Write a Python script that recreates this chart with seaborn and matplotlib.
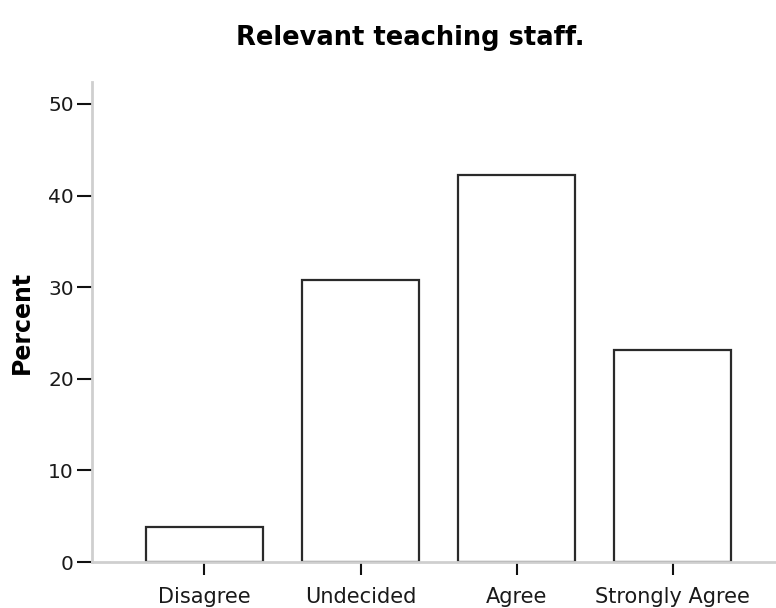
import matplotlib
matplotlib.use("Agg")
import matplotlib.pyplot as plt
import seaborn as sns
import pandas as pd

categories = ["Disagree", "Undecided", "Agree", "Strongly Agree"]
percent = [3.8, 30.8, 42.3, 23.1]
yticks = [0, 10, 20, 30, 40, 50]

df = pd.DataFrame({"response": categories, "percent": percent})

sns.set_style("white")
plt.rcParams["font.family"] = ["DejaVu Sans"]

fig = plt.figure(figsize=(7.76, 6.08), dpi=100)
ax = fig.add_axes([92 / 776, 46 / 608, 684 / 776, 480 / 608])
sns.barplot(data=df, x="response", y="percent", color="white",
            edgecolor="#2a2a2a", linewidth=1.6, width=0.75,
            errorbar=None, ax=ax)
for p in ax.patches:
    p.set_facecolor("white")

ax.set_xlim(-0.72, 3.66)
ax.set_ylim(0, 52.4)
ax.set_yticks(yticks)
ax.set_xlabel("")
ax.set_ylabel("Percent", fontsize=17, fontweight="bold", labelpad=10,
              color="black")

for side in ["top", "right"]:
    ax.spines[side].set_visible(False)
for side in ["left", "bottom"]:
    ax.spines[side].set_color("#cfcfcf")
    ax.spines[side].set_linewidth(2)

ax.tick_params(axis="y", direction="out", length=11, width=1.5,
               color="#111111", labelsize=14.5, pad=2, left=True)
ax.tick_params(axis="x", direction="out", length=9, width=1.5,
               color="#111111", labelsize=15, pad=9, bottom=True)
for lab in ax.get_xticklabels() + ax.get_yticklabels():
    lab.set_color("#1a1a1a")

fig.text(410 / 776, 1 - 38 / 608, "Relevant teaching staff.",
         ha="center", va="center", fontsize=18.5, fontweight="bold",
         color="black")

fig.savefig("out.png", dpi=100, facecolor="white")
